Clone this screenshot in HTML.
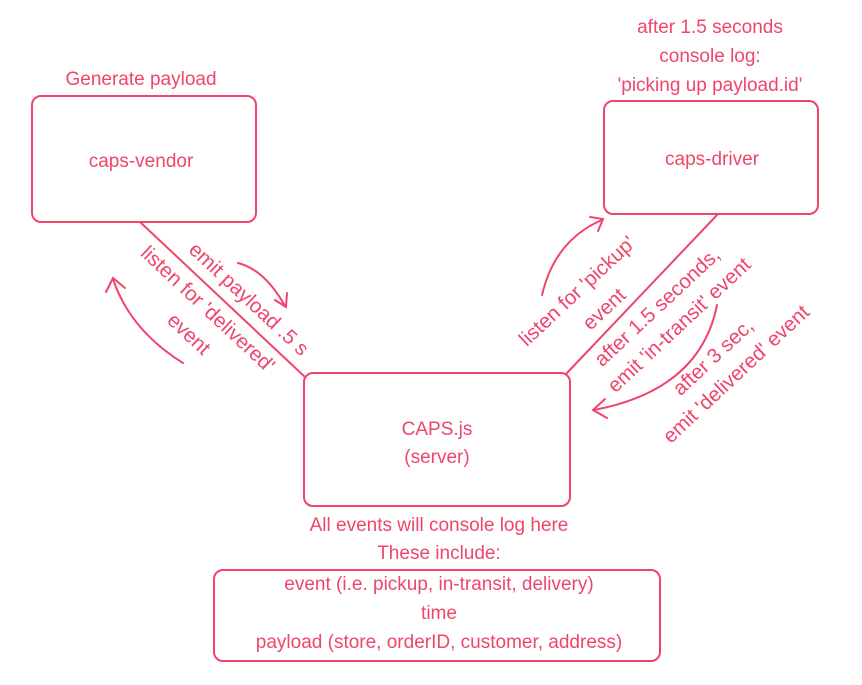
<!DOCTYPE html>
<html><head><meta charset="utf-8"><style>
html,body{margin:0;padding:0;background:#fff;}
svg text{font-family:"Liberation Sans",sans-serif;font-size:19px;fill:#f0456a;text-anchor:middle;dominant-baseline:middle;}
svg text.r{font-size:20.5px;}
</style></head><body>
<svg width="862" height="680" viewBox="0 0 862 680" xmlns="http://www.w3.org/2000/svg">
<g fill="none" stroke="#f0456a" stroke-width="2" stroke-linecap="round">
<rect x="32" y="96" width="224" height="126" rx="9"/>
<rect x="604" y="101" width="214" height="113" rx="9"/>
<rect x="304" y="373" width="266" height="133" rx="9"/>
<rect x="214" y="570" width="446" height="91" rx="9"/>
<line x1="140" y1="222" x2="305" y2="377"/>
<line x1="717" y1="215" x2="566" y2="374"/>
<path d="M238 263 Q265 270 285 306"/>
<path d="M275 300 L286 307 L287 293"/>
<path d="M183 363 Q130 330 113 279"/>
<path d="M106 292 L113 278 L125 288"/>
<path d="M542 295 Q555 240 602 220"/>
<path d="M590 217 L603 219 L598 231"/>
<path d="M717 305 Q700 390 594 410"/>
<path d="M605 399 L593 410 L607 418"/>
</g>
<text x="141" y="80">Generate payload</text>
<text x="141" y="162">caps-vendor</text>
<text x="710" y="28">after 1.5 seconds</text>
<text x="710" y="57">console log:</text>
<text x="710" y="86">'picking up payload.id'</text>
<text x="712" y="160">caps-driver</text>
<text x="437" y="430">CAPS.js</text>
<text x="437" y="458">(server)</text>
<text x="439" y="526">All events will console log here</text>
<text x="439" y="554">These include:</text>
<text x="439" y="585">event (i.e. pickup, in-transit, delivery)</text>
<text x="439" y="614">time</text>
<text x="439" y="643">payload (store, orderID, customer, address)</text>
<text class="r" transform="translate(248,300) rotate(43)">emit payload .5 s</text>
<text class="r" transform="translate(207,310) rotate(43)">listen for 'delivered'</text>
<text class="r" transform="translate(188,335) rotate(43)">event</text>
<text class="r" transform="translate(578,292) rotate(-43)">listen for 'pickup'</text>
<text class="r" transform="translate(605,310) rotate(-43)">event</text>
<text class="r" transform="translate(658,308) rotate(-43)">after 1.5 seconds,</text>
<text class="r" transform="translate(680,326) rotate(-43)">emit 'in-transit' event</text>
<text class="r" transform="translate(714,358) rotate(-43)">after 3 sec,</text>
<text class="r" transform="translate(737,375) rotate(-43)">emit 'delivered' event</text>
</svg>
</body></html>
